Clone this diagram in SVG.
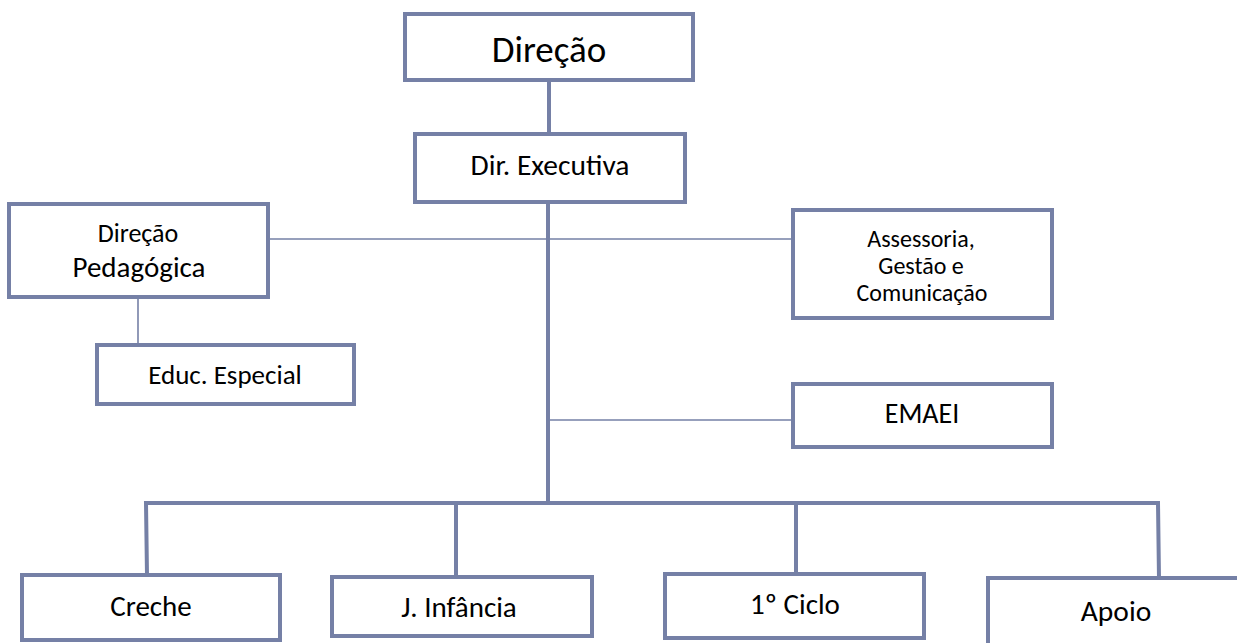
<svg xmlns="http://www.w3.org/2000/svg" width="1237" height="643" viewBox="0 0 1237 643">
<style>
.box{fill:#fff;stroke:#7580a6;stroke-width:4}
.thick{stroke:#7580a6;stroke-width:4;fill:none}
.thin{stroke:#7580a6;stroke-width:1.6;fill:none}
text{font-family:Carlito,Lato,"Liberation Sans",sans-serif;fill:#000;text-anchor:middle}
</style>
<rect width="1237" height="643" fill="#fff"/>
<g id="connectors">
<line class="thick" x1="549" y1="80" x2="549" y2="134"/>
<line class="thick" x1="548" y1="202" x2="548" y2="503"/>
<line class="thin" x1="268" y1="239" x2="793" y2="239"/>
<line class="thin" x1="138" y1="297" x2="138" y2="345"/>
<line class="thin" x1="548" y1="420" x2="793" y2="420"/>
<polyline class="thick" points="147,575 146,503 1158,503 1159,578"/>
<line class="thick" x1="456" y1="503" x2="456" y2="577"/>
<line class="thick" x1="796" y1="503" x2="796" y2="574"/>
</g>
<g id="direcao"><rect class="box" x="405" y="14" width="288" height="66"/><text x="549" y="62" font-size="37">Direção</text></g>
<g id="dir-executiva"><rect class="box" x="415" y="134" width="270" height="68"/><text x="550" y="175" font-size="29.5">Dir. Executiva</text></g>
<g id="direcao-pedagogica"><rect class="box" x="9" y="204" width="259" height="93"/><text x="138" y="242" font-size="26">Direção</text><text x="139" y="277" font-size="29">Pedagógica</text></g>
<g id="educ-especial"><rect class="box" x="97" y="345" width="257" height="59"/><text x="225" y="384" font-size="27">Educ. Especial</text></g>
<g id="assessoria"><rect class="box" x="793" y="210" width="259" height="108"/><text x="921" y="247" font-size="24">Assessoria,</text><text x="921" y="274" font-size="24">Gestão e</text><text x="922" y="301" font-size="24">Comunicação</text></g>
<g id="emaei"><rect class="box" x="793" y="384" width="259" height="63"/><text x="922" y="423" font-size="28">EMAEI</text></g>
<g id="creche"><rect class="box" x="22" y="575" width="258" height="65"/><text x="151" y="616" font-size="29">Creche</text></g>
<g id="j-infancia"><rect class="box" x="332" y="577" width="260" height="59"/><text x="459" y="617" font-size="29">J. Infância</text></g>
<g id="ciclo1"><rect class="box" x="665" y="574" width="259" height="64"/><text x="795" y="614" font-size="29">1º Ciclo</text></g>
<g id="apoio"><rect class="box" x="988" y="578" width="260" height="70"/><text x="1116" y="621" font-size="29.5">Apoio</text></g>
</svg>
